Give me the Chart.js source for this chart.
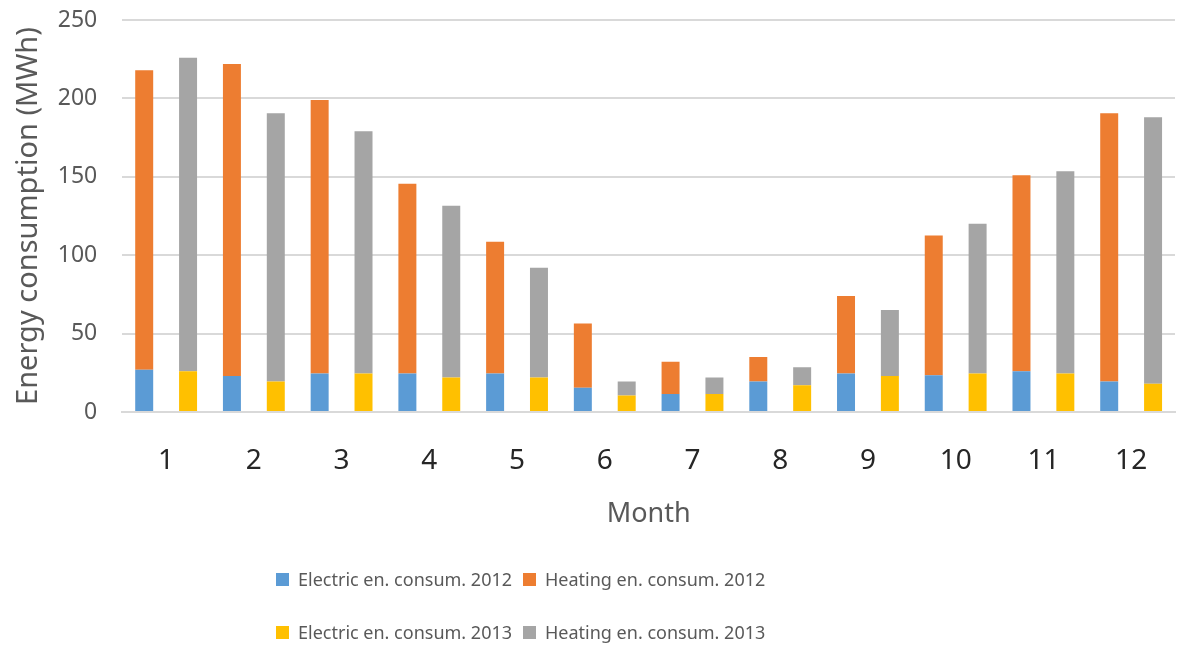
<html><head>
<meta charset="UTF-8">
<title>Energy consumption</title>
<script src="https://cdn.jsdelivr.net/npm/chart.js"></script>
<style>
    body { margin: 0; padding: 0; background: #fff; font-family: 'Noto Sans', sans-serif; color: #595959; }
    .wrap { position: relative; width: 1180px; height: 651px; }
    .legend { position: absolute; left: 0; top: 0; font-size: 18px; }
    .legend .item { position: absolute; display: flex; align-items: center; white-space: nowrap; }
    .legend .box { width: 13px; height: 13px; margin-right: 9px; }
</style>
</head>
<body>
<div class="wrap">
    <canvas id="energyChart" width="1180" height="651"></canvas>
    <div class="legend" id="legend"></div>
</div>
<script>
    // months and values (MWh)
    const months = ['1', '2', '3', '4', '5', '6', '7', '8', '9', '10', '11', '12'];
    const elec2012 = [27, 23, 24.5, 24.5, 24.5, 15.5, 11.5, 19.5, 24.5, 23.5, 26, 19.5];
    const heat2012 = [191, 199, 174.5, 121, 84, 41, 20.5, 15.5, 49.5, 89, 125, 171];
    const elec2013 = [26, 19.5, 24.5, 22, 22, 10.5, 11.5, 17, 23, 24.5, 24.5, 18];
    const heat2013 = [200, 171, 154.5, 109.5, 70, 9, 10.5, 11.5, 42, 95.5, 129, 170];
    const seriesNames = ['Electric en. consum. 2012', 'Heating en. consum. 2012',
                         'Electric en. consum. 2013', 'Heating en. consum. 2013'];
    const yTicks = [0, 50, 100, 150, 200, 250];

    const colors = ['#5B9BD5', '#ED7D31', '#FFC000', '#A5A5A5'];
    const textColor = '#595959';

    const mk = (i, data, stack) => ({
        label: seriesNames[i],
        data: data,
        backgroundColor: colors[i],
        stack: stack,
        categoryPercentage: 1.0,
        barPercentage: 0.41
    });

    new Chart(document.getElementById('energyChart'), {
        type: 'bar',
        data: {
            labels: months,
            datasets: [
                mk(0, elec2012, '2012'),
                mk(1, heat2012, '2012'),
                mk(2, elec2013, '2013'),
                mk(3, heat2013, '2013')
            ]
        },
        options: {
            responsive: false,
            animation: false,
            layout: { padding: { top: 20, right: 5, bottom: 120, left: 11 } },
            plugins: {
                legend: { display: false },
                tooltip: { enabled: false }
            },
            scales: {
                x: {
                    stacked: true,
                    grid: { display: false },
                    border: { color: '#D9D9D9', width: 2 },
                    ticks: { color: '#262626', font: { family: 'Noto Sans', size: 28 }, padding: 24 },
                    title: { display: true, text: 'Month', color: textColor,
                             font: { family: 'Noto Sans', size: 27 }, padding: { top: -3, bottom: 0 } }
                },
                y: {
                    stacked: true,
                    min: 0, max: 250,
                    afterBuildTicks: axis => { axis.ticks = yTicks.map(v => ({ value: v })); },
                    grid: { color: '#D9D9D9', lineWidth: 2, tickLength: 22, tickColor: 'rgba(0,0,0,0)' },
                    border: { display: false },
                    ticks: { color: textColor, font: { family: 'Noto Sans', size: 23 }, padding: 3 },
                    title: { display: true, text: 'Energy consumption (MWh)', color: textColor,
                             font: { family: 'Noto Sans', size: 29 }, padding: { top: 0, bottom: 9 } }
                }
            }
        }
    });

    // legend in two rows, two columns like the original
    const legendPos = [[276, 580], [523, 580], [276, 633], [523, 633]];
    const legend = document.getElementById('legend');
    seriesNames.forEach((name, i) => {
        const it = document.createElement('div');
        it.className = 'item';
        it.style.left = legendPos[i][0] + 'px';
        it.style.top = (legendPos[i][1] - 13) + 'px';
        it.innerHTML = '<span class="box" style="background:' + colors[i] + '"></span><span>' + name + '</span>';
        legend.appendChild(it);
    });
</script>
</body></html>
